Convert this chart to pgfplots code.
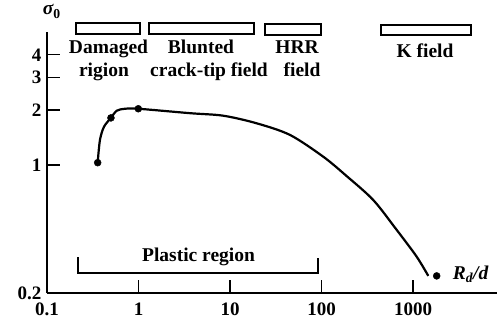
\documentclass[border=0pt]{standalone}
\usepackage{fontspec}
\setmainfont{Liberation Serif}
\usepackage{pgfplots}
\pgfplotsset{compat=1.18}
\begin{document}
\begin{tikzpicture}
\begin{axis}[
  at={(47pt,29pt)}, anchor=south west,
  scale only axis, width=450pt, height=261pt,
  xmode=log, ymode=log,
  xmin=0.1, xmax=8280, ymin=0.2, ymax=5.33,
  axis lines=left, axis line style={-, line width=1.5pt},
  tick align=inside, major tick length=13pt,
  tick style={line width=1.3pt, black},
  minor tick style={draw=none},
  xtick={0.1,1,10,100,1000}, xticklabels={0.1,1,10,100,1000},
  ytick={0.2,1,2,3,4}, yticklabels={0.2,1,2,3,4},
  every tick label/.append style={font=\fontsize{19}{19}\selectfont\bfseries},
  xticklabel shift=6pt,
  yticklabel shift=2pt,
  clip=false,
]
\addplot[black, line width=2.2pt, smooth, tension=0.5] coordinates {
(0.358,1.03) (0.379,1.37) (0.42,1.62) (0.50,1.81) (0.578,1.98) (0.711,2.03)
(0.995,2.03) (3.66,1.92) (8.45,1.86) (19.6,1.69) (45.3,1.46) (104.7,1.11)
(188,0.871) (368,0.644) (664,0.442) (1096,0.316) (1469,0.248)
};
\addplot[only marks, mark=*, mark size=3.5pt, black] coordinates {
(0.358,1.03) (0.50,1.81) (0.995,2.03) (1815,0.248)
};
\end{axis}
\begin{scope}[x=1pt,y=-1pt,yshift=322pt,line width=1.5pt,
  font=\fontsize{19.5}{22}\selectfont\bfseries]
  \draw (76,23) rectangle (140,34);
  \draw (149,23) rectangle (254,34);
  \draw (265,24) rectangle (321,35);
  \draw (381,25) rectangle (471,35);
  \node[anchor=base] at (108.5,54) {Damaged};
  \node[anchor=base] at (104,77) {rigion};
  \node[anchor=base] at (201,54) {Blunted};
  \node[anchor=base] at (209,77) {crack-tip field};
  \node[anchor=base] at (297,54) {HRR};
  \node[anchor=base] at (302,77) {field};
  \node[anchor=base] at (425,58) {K field};
  \draw (78,257) -- (78,273) -- (318,273) -- (318,258);
  \node[anchor=base] at (198.5,261) {Plastic region};
  \node[anchor=base west, inner sep=0pt] at (452,279) {\itshape R\textsubscript{d}/d};
  \node[anchor=base west, inner sep=0pt] at (42,15) {\itshape σ\textsubscript{\upshape 0}};
\end{scope}
\pgfresetboundingbox
\useasboundingbox (0pt,0pt) rectangle (500pt,322pt);
\end{tikzpicture}
\end{document}
